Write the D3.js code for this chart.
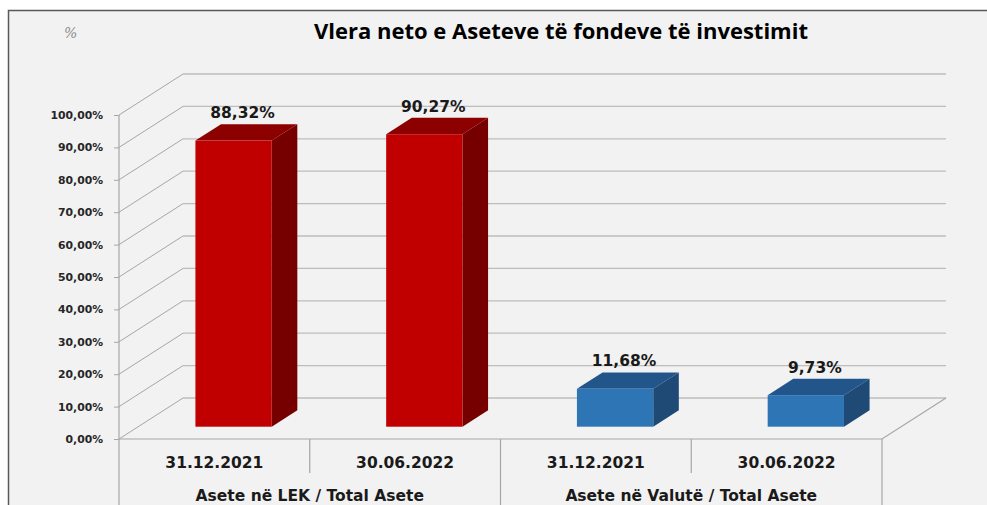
<!DOCTYPE html>
<html>
<head>
  <meta charset="utf-8">
  <title>Vlera neto e Aseteve</title>
  <script src="https://cdn.jsdelivr.net/npm/d3@7"></script>
  <style>
    body { margin: 0; background: #fff; }
    svg { display: block; }
  </style>
</head>
<body>
  <svg width="987" height="505"></svg>

  <script>
    // data
    const categories = ["31.12.2021", "30.06.2022", "31.12.2021", "30.06.2022"];
    const groups = ["Asete në LEK / Total Asete", "Asete në Valutë / Total Asete"];
    const values = [0.8832, 0.9027, 0.1168, 0.0973];
    const valueLabels = ["88,32%", "90,27%", "11,68%", "9,73%"];
    const yTicks = [0, 0.1, 0.2, 0.3, 0.4, 0.5, 0.6, 0.7, 0.8, 0.9, 1.0];

    const svg = d3.select("svg");
    const width = +svg.attr("width");
    const height = +svg.attr("height");

    // chart area frame
    svg.append("rect")
      .attr("x", 8.5).attr("y", 10.5)
      .attr("width", width + 20).attr("height", height + 20)
      .attr("fill", "#f2f2f2")
      .attr("stroke", "#595959")
      .attr("stroke-width", 1.5);

    // 3d projection: depth offset of the back wall
    const depth = { dx: 64, dy: -41 };
    const plot = { left: 119, right: 882, top: 115, bottom: 439 };

    const y = d3.scaleLinear().domain([0, 1]).range([plot.bottom, plot.top]);
    const x = d3.scaleBand()
      .domain(d3.range(categories.length))
      .range([plot.left, plot.right]);

    const gridColor = "#bdbdbd";
    const edgeColor = "#a6a6a6";
    const font = "DejaVu Sans, Verdana, sans-serif";

    // back wall gridlines + side wall diagonals
    const grid = svg.append("g");
    yTicks.forEach(t => {
      grid.append("line")
        .attr("x1", plot.left + depth.dx).attr("x2", plot.right + depth.dx)
        .attr("y1", y(t) + depth.dy).attr("y2", y(t) + depth.dy)
        .attr("stroke", gridColor).attr("stroke-width", 1.3);
      grid.append("line")
        .attr("x1", plot.left).attr("y1", y(t))
        .attr("x2", plot.left + depth.dx).attr("y2", y(t) + depth.dy)
        .attr("stroke", edgeColor).attr("stroke-width", 1);
    });

    // floor
    svg.append("path")
      .attr("d", d3.line()([
        [plot.left, y(0)],
        [plot.right, y(0)],
        [plot.right + depth.dx, y(0) + depth.dy]
      ]))
      .attr("fill", "none")
      .attr("stroke", edgeColor).attr("stroke-width", 1.2);

    // front value axis
    const axis = d3.axisLeft(y)
      .tickValues(yTicks)
      .tickSize(5)
      .tickPadding(11)
      .tickFormat(d => d3.format(".2f")(d * 100).replace(".", ",") + "%");

    const axisG = svg.append("g")
      .attr("transform", `translate(${plot.left},0)`)
      .call(axis);
    axisG.select(".domain").remove();
    axisG.selectAll(".tick line").attr("stroke", edgeColor);
    axisG.selectAll(".tick text")
      .attr("fill", "#262626")
      .style("font-family", font)
      .style("font-size", "10.8px")
      .style("font-weight", "bold");
    svg.append("line")
      .attr("x1", plot.left).attr("x2", plot.left)
      .attr("y1", plot.top).attr("y2", height)
      .attr("stroke", edgeColor).attr("stroke-width", 1.2);

    // category table below the floor
    const rowBottom = 473;
    svg.append("g").selectAll("line")
      .data(d3.range(1, categories.length + 1))
      .join("line")
      .attr("x1", i => x(0) + x.step() * i).attr("x2", i => x(0) + x.step() * i)
      .attr("y1", y(0))
      .attr("y2", i => i % 2 === 0 ? height : rowBottom)
      .attr("stroke", edgeColor).attr("stroke-width", 1.2);

    svg.append("g").selectAll("text")
      .data(categories)
      .join("text")
      .attr("x", (d, i) => x(i) + x.bandwidth() / 2)
      .attr("y", 468)
      .attr("text-anchor", "middle")
      .attr("fill", "#1a1a1a")
      .style("font-family", font)
      .style("font-size", "15.5px")
      .style("font-weight", "bold")
      .text(d => d);

    svg.append("g").selectAll("text")
      .data(groups)
      .join("text")
      .attr("x", (d, i) => x(i * 2) + x.step())
      .attr("y", 501)
      .attr("text-anchor", "middle")
      .attr("fill", "#1a1a1a")
      .style("font-family", font)
      .style("font-size", "15.5px")
      .style("font-weight", "bold")
      .text(d => d);

    // 3d bars
    const barFront = 0.3;   // bar starts at 30% of the depth
    const barDepth = 0.4;   // and is 40% of it deep
    const barW = x.bandwidth() * 0.4;
    const colors = [
      { front: "#c00000", top: "#8c0000", side: "#760000" },
      { front: "#2e75b6", top: "#22568a", side: "#1f4a75" }
    ];

    const bars = svg.append("g").selectAll("g")
      .data(values)
      .join("g");

    bars.each(function (v, i) {
      const g = d3.select(this);
      const c = colors[Math.floor(i / 2)];
      const ox = barFront * depth.dx, oy = barFront * depth.dy;
      const bx = barDepth * depth.dx, by = barDepth * depth.dy;
      const x0 = x(i) + x.bandwidth() / 2 - barW / 2 + ox;
      const x1 = x0 + barW;
      const yb = y(0) + oy;
      const yt = y(v) + oy;

      g.append("path")
        .attr("d", d3.line()([[x0, yt], [x0 + bx, yt + by], [x1 + bx, yt + by], [x1, yt]]) + "Z")
        .attr("fill", c.top);
      g.append("path")
        .attr("d", d3.line()([[x1, yt], [x1 + bx, yt + by], [x1 + bx, yb + by], [x1, yb]]) + "Z")
        .attr("fill", c.side);
      g.append("rect")
        .attr("x", x0).attr("y", yt)
        .attr("width", barW).attr("height", yb - yt)
        .attr("fill", c.front);

      g.append("text")
        .attr("x", (x0 + x1) / 2 + 9)
        .attr("y", yt + by - 6)
        .attr("text-anchor", "middle")
        .attr("fill", "#1a1a1a")
        .style("font-family", font)
        .style("font-size", "15.5px")
        .style("font-weight", "bold")
        .text(valueLabels[i]);
    });

    // title and unit
    svg.append("text")
      .attr("x", 561).attr("y", 39)
      .attr("text-anchor", "middle")
      .attr("fill", "#000")
      .style("font-family", "Open Sans, sans-serif")
      .style("font-size", "22px")
      .style("font-weight", "bold")
      .text("Vlera neto e Aseteve të fondeve të investimit");

    svg.append("text")
      .attr("x", 64).attr("y", 38)
      .attr("fill", "#8c8c8c")
      .style("font-family", "DejaVu Serif, serif")
      .style("font-size", "14px")
      .style("font-style", "italic")
      .text("%");
  </script>
</body>
</html>
